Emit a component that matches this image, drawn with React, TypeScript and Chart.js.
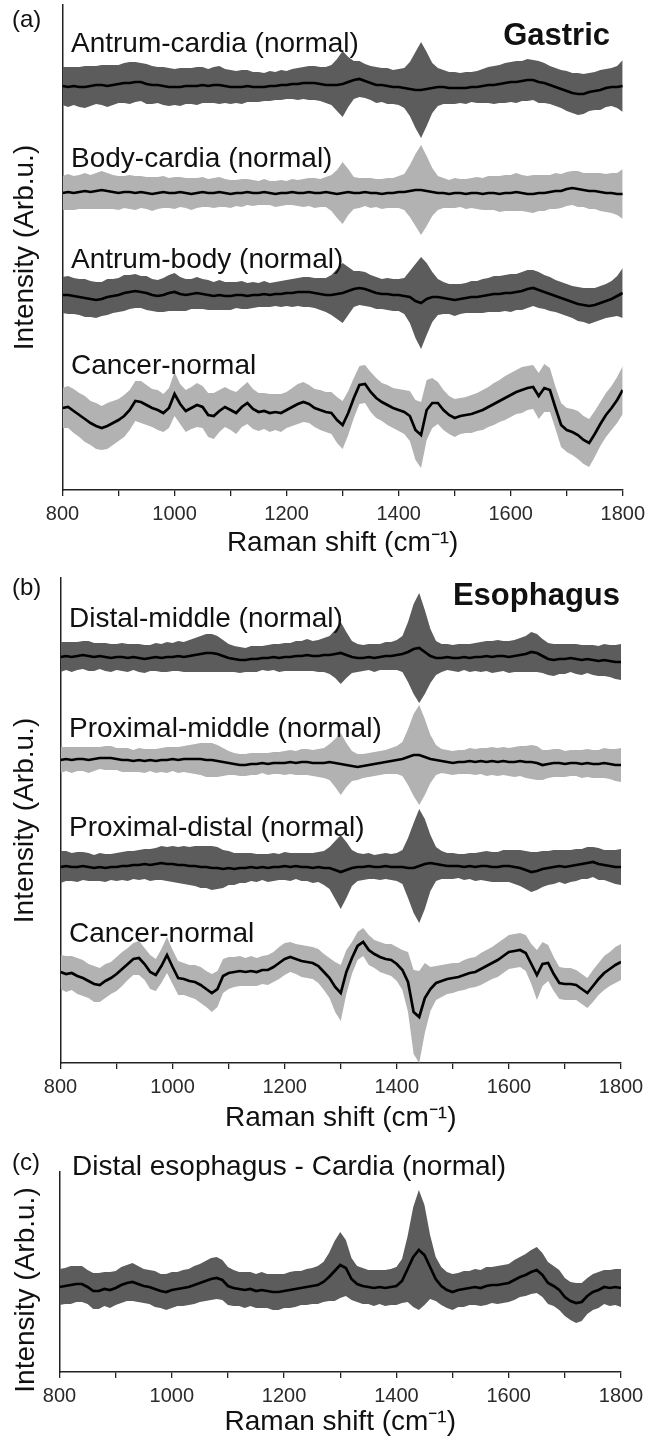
import React, { useEffect, useRef } from "react";
import { Chart, registerables } from "chart.js";

Chart.register(...registerables);

const FONT = "'Liberation Sans', Arial, Helvetica, sans-serif";
const DARK = "#5c5c5c";
const LIGHT = "#b2b2b2";

// Raman shift grid (cm^-1)
const WAVENUMBER = [
  800, 810, 820, 830, 840, 850, 860, 870, 880, 890,
  900, 910, 920, 930, 940, 950, 960, 970, 980, 990,
  1000, 1010, 1020, 1030, 1040, 1050, 1060, 1070, 1080, 1090,
  1100, 1110, 1120, 1130, 1140, 1150, 1160, 1170, 1180, 1190,
  1200, 1210, 1220, 1230, 1240, 1250, 1260, 1270, 1280, 1290,
  1300, 1310, 1320, 1330, 1340, 1350, 1360, 1370, 1380, 1390,
  1400, 1410, 1420, 1430, 1440, 1450, 1460, 1470, 1480, 1490,
  1500, 1510, 1520, 1530, 1540, 1550, 1560, 1570, 1580, 1590,
  1600, 1610, 1620, 1630, 1640, 1650, 1660, 1670, 1680, 1690,
  1700, 1710, 1720, 1730, 1740, 1750, 1760, 1770, 1780, 1790,
  1800,
];
const X_TICKS = [800, 1000, 1200, 1400, 1600, 1800];
const Y_TITLE = "Intensity (Arb.u.)";
const X_TITLE = "Raman shift (cm\u207B\u00B9)";

// ---------- (a) Gastric ----------
const GASTRIC_NAMES = ["Antrum-cardia (normal)", "Body-cardia (normal)", "Antrum-body (normal)", "Cancer-normal"];
const GASTRIC_OFFSETS = [403, 297, 195, 80];

const ANTRUM_CARDIA_MEAN = [
  1, 0, 1, 0, 0, 1, 2, 2, 1, 2,
  3, 4, 4, 5, 5, 3, 2, 2, 1, 0,
  0, 0, 1, 1, 1, 2, 1, 2, 2, 1,
  0, 0, 0, 1, 0, 0, 0, 1, 1, 2,
  2, 3, 3, 4, 4, 4, 3, 2, 2, 2,
  3, 5, 7, 8, 6, 4, 2, 2, 1, 0,
  0, -1, -2, -3, -3, -2, -1, 0, 0, -1,
  -1, -1, -1, 0, 0, 1, 2, 2, 3, 4,
  5, 5, 6, 7, 7, 5, 4, 2, 0, -2,
  -4, -6, -7, -7, -5, -4, -3, -1, 0, 0,
  1,
];
const ANTRUM_CARDIA_SD = [
  19, 20, 19, 20, 21, 20, 19, 20, 21, 20,
  19, 20, 21, 20, 19, 20, 19, 18, 19, 19,
  18, 19, 18, 18, 19, 18, 17, 18, 19, 17,
  17, 16, 17, 16, 15, 15, 14, 15, 14, 15,
  14, 15, 16, 16, 17, 17, 17, 18, 20, 26,
  33, 25, 19, 18, 17, 17, 18, 17, 18, 17,
  18, 20, 27, 38, 48, 37, 25, 19, 17, 16,
  16, 15, 16, 15, 16, 17, 18, 19, 19, 20,
  20, 21, 20, 21, 20, 21, 20, 19, 19, 19,
  20, 20, 21, 20, 19, 19, 20, 19, 19, 21,
  26,
];
const BODY_CARDIA_MEAN = [
  0, 1, 0, 1, 2, 1, 2, 3, 2, 1,
  0, 1, 1, 0, 1, 0, -1, 0, 1, 0,
  0, 1, 0, -1, 0, 1, 0, 0, 1, 0,
  -1, 0, 0, 1, 0, 0, 1, 0, -1, 0,
  0, 1, 0, 0, 1, 0, 0, 1, 0, -1,
  0, 1, 0, 0, 1, 0, 0, -1, 0, 0,
  1, 1, 2, 3, 3, 2, 1, 0, 0, -1,
  0, 0, -1, 0, 0, -1, 0, 0, -1, 0,
  0, 1, 0, -1, -1, 0, 0, 1, 2, 2,
  4, 5, 4, 3, 2, 2, 1, 0, 0, -1,
  -1,
];
const BODY_CARDIA_SD = [
  17, 18, 17, 17, 18, 17, 18, 19, 18, 17,
  17, 16, 17, 17, 16, 16, 17, 16, 16, 15,
  16, 15, 15, 16, 15, 15, 14, 15, 15, 14,
  14, 13, 14, 13, 13, 12, 13, 12, 13, 13,
  12, 13, 13, 14, 14, 15, 14, 15, 18, 24,
  31, 23, 16, 15, 14, 15, 14, 15, 15, 15,
  16, 18, 26, 36, 45, 35, 24, 17, 15, 14,
  15, 14, 15, 15, 16, 16, 17, 17, 18, 18,
  18, 19, 18, 18, 19, 18, 18, 17, 18, 17,
  17, 17, 18, 17, 18, 18, 19, 19, 20, 21,
  25,
];
const ANTRUM_BODY_MEAN = [
  0, 0, -1, -2, -3, -4, -5, -4, -2, -1,
  0, 2, 3, 4, 3, 2, 0, -1, 0, 2,
  3, 1, 0, 1, 2, 1, 0, -1, 0, -1,
  -1, 0, 0, -1, 0, 0, 1, 0, 1, 1,
  2, 2, 3, 3, 3, 2, 1, 0, 0, 1,
  2, 4, 6, 7, 6, 4, 2, 1, 1, 0,
  0, -1, -2, -6, -8, -4, -2, -2, -3, -4,
  -5, -4, -3, -2, -2, -1, 0, 1, 1, 2,
  2, 3, 4, 6, 7, 5, 3, 1, -1, -3,
  -5, -7, -9, -10, -11, -10, -8, -6, -4, -1,
  2,
];
const ANTRUM_BODY_SD = [
  18, 19, 18, 18, 19, 18, 18, 17, 18, 17,
  17, 18, 17, 17, 16, 17, 16, 16, 17, 18,
  19, 17, 16, 15, 16, 15, 15, 14, 15, 14,
  14, 13, 14, 13, 13, 12, 13, 12, 12, 13,
  13, 14, 14, 15, 15, 15, 16, 17, 20, 25,
  30, 24, 18, 17, 17, 16, 16, 15, 16, 16,
  16, 18, 26, 37, 46, 36, 25, 18, 16, 15,
  16, 15, 15, 16, 16, 17, 17, 18, 18, 18,
  19, 18, 19, 19, 18, 18, 17, 17, 16, 16,
  16, 16, 17, 17, 18, 17, 17, 17, 18, 20,
  25,
];
const GASTRIC_CANCER_MEAN = [
  2, 3, -1, -5, -9, -13, -16, -18, -16, -13,
  -10, -6, 0, 9, 8, 5, 2, 0, -3, 2,
  16, 6, -1, 2, 5, 3, -5, -6, -1, 3,
  0, -3, 3, 7, 1, -2, -1, -3, -2, -3,
  0, 3, 6, 8, 6, 2, 0, -2, -3, -10,
  -15, -3, 12, 25, 26, 18, 12, 8, 5, 2,
  0, -2, -6, -20, -25, 0, 7, 7, 0, -5,
  -8, -6, -5, -4, -2, 0, 3, 6, 9, 12,
  15, 18, 20, 22, 23, 14, 22, 20, 2, -15,
  -20, -22, -25, -30, -33, -24, -14, -5, 2, 10,
  20,
];
const GASTRIC_CANCER_SD = [
  20, 21, 22, 22, 23, 22, 23, 22, 23, 22,
  21, 21, 20, 20, 21, 20, 19, 20, 19, 20,
  22, 20, 21, 21, 22, 21, 22, 23, 21, 20,
  20, 21, 20, 21, 20, 19, 18, 19, 18, 19,
  18, 19, 20, 20, 19, 19, 20, 20, 21, 23,
  24, 22, 20, 19, 19, 20, 20, 19, 20, 20,
  21, 22, 25, 30, 33, 30, 25, 21, 20, 19,
  19, 18, 18, 19, 19, 20, 20, 21, 21, 22,
  22, 22, 23, 22, 22, 23, 24, 22, 21, 22,
  22, 23, 24, 24, 24, 23, 22, 22, 22, 23,
  24,
];

// ---------- (b) Esophagus ----------
const ESOPHAGUS_NAMES = ["Distal-middle (normal)", "Proximal-middle (normal)", "Proximal-distal (normal)", "Cancer-normal"];
const ESOPHAGUS_OFFSETS = [406, 303, 196, 91];

const DISTAL_MIDDLE_MEAN = [
  0, 1, 0, 1, 2, 1, 0, 1, 0, -1,
  0, 0, -1, 0, -1, -2, -1, 0, -1, 0,
  0, 1, 0, 1, 2, 3, 4, 4, 3, 1,
  -1, -2, -3, -3, -2, -2, -1, -1, 0, -1,
  0, 0, 1, 1, 2, 1, 1, 2, 2, 3,
  4, 2, 0, -1, -1, 0, -1, 0, 1, 1,
  2, 3, 5, 8, 9, 5, 1, -1, -1, 0,
  -1, -1, 0, -1, 0, 0, 1, 0, 1, 1,
  0, 1, 2, 3, 5, 4, 1, -2, -3, -2,
  -2, -1, -2, -3, -2, -3, -4, -3, -4, -5,
  -5,
];
const DISTAL_MIDDLE_SD = [
  15, 14, 15, 14, 14, 15, 14, 13, 14, 14,
  13, 14, 14, 13, 14, 14, 13, 14, 14, 15,
  14, 15, 15, 16, 17, 18, 19, 19, 18, 16,
  14, 13, 13, 12, 13, 13, 12, 13, 13, 14,
  14, 14, 15, 15, 16, 15, 16, 17, 19, 24,
  31, 23, 16, 14, 13, 13, 14, 13, 14, 14,
  15, 18, 30, 45, 55, 42, 27, 17, 14, 13,
  13, 14, 13, 14, 14, 15, 15, 16, 16, 15,
  16, 16, 17, 18, 20, 19, 17, 16, 16, 15,
  15, 14, 15, 15, 14, 15, 15, 16, 16, 17,
  18,
];
const PROXIMAL_MIDDLE_MEAN = [
  0, 1, 0, 1, 1, 0, 1, 2, 2, 2,
  1, 0, 0, -1, 0, -1, 0, -1, 0, 0,
  1, 0, 1, 1, 1, 1, 0, 0, -1, -2,
  -3, -4, -5, -5, -4, -4, -3, -4, -3, -3,
  -3, -2, -3, -2, -2, -3, -3, -3, -2, -3,
  -4, -5, -6, -7, -6, -5, -4, -3, -2, -1,
  0, 1, 3, 5, 5, 3, 1, 0, -1, -2,
  -3, -2, -2, -1, -2, -1, -2, -1, -2, -1,
  -2, -2, -1, -2, -2, -3, -5, -4, -3, -3,
  -4, -3, -3, -4, -3, -4, -4, -3, -4, -5,
  -5,
];
const PROXIMAL_MIDDLE_SD = [
  13, 12, 13, 12, 12, 13, 12, 11, 12, 12,
  11, 12, 12, 11, 12, 12, 11, 12, 12, 13,
  12, 13, 13, 14, 15, 16, 17, 17, 16, 14,
  12, 11, 11, 11, 11, 11, 10, 11, 11, 11,
  12, 12, 12, 13, 13, 13, 14, 15, 18, 24,
  31, 22, 15, 13, 12, 12, 12, 12, 12, 13,
  14, 17, 28, 41, 50, 38, 24, 15, 12, 12,
  12, 12, 12, 13, 13, 13, 14, 14, 14, 14,
  14, 15, 15, 16, 17, 17, 15, 14, 14, 14,
  13, 13, 13, 14, 14, 14, 14, 15, 15, 16,
  17,
];
const PROXIMAL_DISTAL_MEAN = [
  0, 1, 0, 0, 1, 0, -1, 0, -1, 0,
  0, 1, 1, 2, 2, 3, 2, 3, 4, 3,
  3, 2, 2, 1, 1, 0, 0, -1, -1, -2,
  -1, -2, -1, -1, 0, -1, 0, -1, 0, 0,
  1, 0, 1, 0, 0, -1, 0, -1, -1, -3,
  -5, -3, -1, 0, 0, 1, 0, 0, 1, 0,
  0, 0, -1, -1, 1, 3, 4, 3, 2, 1,
  1, 1, 0, 1, 0, 1, 1, 0, 0, 1,
  1, 0, -1, -3, -5, -4, -2, -1, 0, 1,
  0, 1, 2, 3, 4, 5, 3, 2, 1, 0,
  0,
];
const PROXIMAL_DISTAL_SD = [
  16, 15, 14, 15, 14, 14, 13, 14, 14, 13,
  14, 14, 15, 14, 15, 15, 16, 16, 17, 17,
  18, 18, 19, 19, 20, 21, 21, 22, 21, 19,
  17, 16, 15, 15, 14, 14, 13, 14, 14, 13,
  14, 14, 13, 14, 14, 15, 15, 17, 21, 29,
  37, 28, 18, 14, 13, 13, 12, 13, 13, 13,
  14, 17, 30, 45, 57, 45, 28, 17, 14, 13,
  13, 12, 13, 13, 14, 14, 15, 15, 15, 16,
  16, 17, 18, 19, 20, 19, 18, 17, 17, 16,
  17, 16, 16, 15, 16, 15, 16, 15, 16, 17,
  18,
];
const ESOPHAGUS_CANCER_MEAN = [
  0, -2, -1, -4, -6, -9, -12, -13, -9, -6,
  -2, 3, 8, 13, 14, 8, 0, -3, 6, 17,
  5, -6, -7, -9, -10, -13, -17, -21, -17, -4,
  -1, 0, 1, 0, 1, 0, 2, 2, 5, 9,
  13, 15, 13, 11, 10, 9, 6, 0, -6, -15,
  -21, 0, 14, 26, 30, 22, 18, 15, 13, 12,
  8, 2, -10, -40, -45, -26, -17, -11, -9, -7,
  -6, -5, -3, -1, 0, 3, 6, 9, 12, 16,
  20, 21, 22, 19, 8, -3, 8, 9, -2, -11,
  -12, -12, -13, -17, -21, -14, -7, -1, 3, 7,
  10,
];
const ESOPHAGUS_CANCER_SD = [
  17, 18, 17, 18, 18, 17, 18, 17, 17, 16,
  17, 17, 16, 16, 17, 16, 17, 16, 17, 18,
  17, 17, 16, 16, 17, 18, 18, 19, 18, 17,
  16, 15, 15, 14, 15, 14, 14, 15, 15, 16,
  16, 15, 15, 16, 16, 16, 17, 18, 20, 25,
  28, 22, 16, 14, 14, 15, 14, 15, 15, 16,
  17, 20, 30, 42, 46, 35, 22, 17, 16, 15,
  15, 14, 15, 15, 15, 16, 16, 16, 17, 17,
  17, 17, 17, 18, 20, 25, 22, 18, 17, 16,
  16, 16, 15, 15, 15, 16, 16, 17, 17, 18,
  18,
];

// ---------- (c) Distal esophagus - Cardia ----------
const JUNCTION_NAME = "Distal esophagus - Cardia (normal)";
const JUNCTION_OFFSET = 85;
const JUNCTION_MEAN = [
  0, 1, 2, 3, 3, 0, -4, -4, -2, -3,
  -1, 2, 4, 5, 3, 1, 0, -2, -4, -5,
  -3, -2, -1, 0, 2, 4, 6, 8, 9, 7,
  1, -1, -2, -3, -2, -4, -3, -4, -5, -5,
  -4, -3, -2, -1, 0, 1, 2, 5, 10, 16,
  22, 19, 8, 3, 1, 0, -1, 0, -1, 0,
  1, 6, 18, 30, 37, 32, 20, 8, 1, -3,
  -5, -3, -2, -1, 0, -1, 1, 2, 2, 3,
  4, 7, 10, 12, 15, 17, 12, 4, 1, -3,
  -10, -14, -16, -15, -9, -5, -3, 0, -1, 0,
  -1,
];
const JUNCTION_SD = [
  18, 18, 19, 18, 18, 17, 18, 18, 17, 18,
  17, 18, 18, 19, 18, 17, 17, 18, 17, 18,
  18, 17, 18, 18, 19, 19, 20, 21, 21, 20,
  19, 18, 17, 18, 17, 17, 18, 17, 18, 18,
  17, 18, 18, 17, 18, 18, 19, 20, 24, 30,
  33, 28, 21, 18, 18, 17, 18, 17, 18, 18,
  19, 22, 33, 50, 60, 50, 32, 22, 19, 18,
  18, 17, 18, 17, 18, 18, 19, 18, 19, 19,
  19, 20, 20, 21, 22, 23, 22, 21, 20, 20,
  19, 19, 20, 19, 18, 18, 18, 17, 18, 18,
  19,
];

type Trace = { mean: number[]; sd: number[]; offset: number; color: string };

function buildDatasets(traces: Trace[]) {
  const pts = (vals: number[]) => WAVENUMBER.map((x, i) => ({ x, y: vals[i] }));
  const lines = traces.map((t) => ({
    data: pts(t.mean.map((m) => t.offset + m)),
    borderColor: "#000",
    borderWidth: 2.7,
    pointRadius: 0,
    fill: false,
    order: 0,
  }));
  const bands: any[] = [];
  traces.forEach((t) => {
    bands.push({
      data: pts(t.mean.map((m, i) => t.offset + m + t.sd[i])),
      backgroundColor: t.color,
      borderWidth: 0,
      pointRadius: 0,
      fill: "+1",
      order: 1,
    });
    bands.push({
      data: pts(t.mean.map((m, i) => t.offset + m - t.sd[i])),
      borderWidth: 0,
      pointRadius: 0,
      fill: false,
      order: 1,
    });
  });
  return [...lines, ...bands];
}

const textPlugin = {
  id: "panelText",
  afterDraw(chart: any, _args: any, opts: any) {
    const ctx = chart.ctx;
    for (const it of opts.items || []) {
      ctx.save();
      ctx.font = it.font;
      ctx.fillStyle = it.color || "#111";
      ctx.textAlign = it.align || "left";
      ctx.textBaseline = it.baseline || "alphabetic";
      ctx.translate(it.x, it.y);
      if (it.rotate) ctx.rotate(it.rotate);
      ctx.fillText(it.text, 0, 0);
      ctx.restore();
    }
  },
};

type PanelLayout = {
  padTop: number;
  padRight: number;
  xHeight: number;
  yWidth: number;
  yMax: number;
  xTitlePad: number;
  yTitleOnScale: boolean;
};

function makeConfig(traces: Trace[], layout: PanelLayout, items: any[]) {
  return {
    type: "line",
    data: { datasets: buildDatasets(traces) },
    plugins: [textPlugin],
    options: {
      responsive: false,
      animation: false,
      devicePixelRatio: 1,
      layout: { padding: { top: layout.padTop, right: layout.padRight, bottom: 0, left: 0 } },
      elements: { line: { tension: 0 } },
      plugins: {
        legend: { display: false },
        tooltip: { enabled: false },
        panelText: { items },
      },
      scales: {
        x: {
          type: "linear",
          position: "bottom",
          min: 800,
          max: 1800,
          afterFit: (s: any) => {
            s.height = layout.xHeight;
          },
          afterBuildTicks: (s: any) => {
            const ticks: any[] = [];
            for (let v = 800; v <= 1800; v += 100) ticks.push({ value: v });
            s.ticks = ticks;
          },
          ticks: {
            autoSkip: false,
            maxRotation: 0,
            padding: 6,
            color: "#2a2a2a",
            font: { family: FONT, size: 20 },
            callback: (v: number) => (X_TICKS.includes(v) ? String(v) : ""),
          },
          grid: {
            display: true,
            drawOnChartArea: false,
            drawTicks: true,
            tickLength: 6,
            color: "#222",
            lineWidth: 1.3,
          },
          border: { display: true, color: "#222", width: 1.5 },
          title: {
            display: true,
            text: X_TITLE,
            color: "#111",
            font: { family: FONT, size: 28 },
            padding: { top: 0, bottom: layout.xTitlePad },
          },
        },
        y: {
          type: "linear",
          position: "left",
          min: 0,
          max: layout.yMax,
          afterFit: (s: any) => {
            s.width = layout.yWidth;
          },
          ticks: { display: false },
          grid: { display: false, drawTicks: false },
          border: { display: true, color: "#222", width: 1.5 },
          title: {
            display: layout.yTitleOnScale,
            text: Y_TITLE,
            color: "#111",
            font: { family: FONT, size: 28 },
            padding: { top: 8, bottom: 0 },
          },
        },
      },
    },
  };
}

function Panel({ top, height, config }: { top: number; height: number; config: () => any }) {
  const ref = useRef<HTMLCanvasElement | null>(null);
  useEffect(() => {
    if (!ref.current) return;
    const chart = new Chart(ref.current, config());
    return () => chart.destroy();
  }, []);
  return (
    <div style={{ position: "absolute", left: 0, top, width: 651, height }}>
      <canvas ref={ref} width={651} height={height} style={{ display: "block", width: 651, height }} />
    </div>
  );
}

const LABEL_FONT = `28px ${FONT}`;
const LETTER_FONT = `24px ${FONT}`;
const HEAD_FONT = `bold 31px ${FONT}`;

function gastricConfig() {
  const mean = [ANTRUM_CARDIA_MEAN, BODY_CARDIA_MEAN, ANTRUM_BODY_MEAN, GASTRIC_CANCER_MEAN];
  const sd = [ANTRUM_CARDIA_SD, BODY_CARDIA_SD, ANTRUM_BODY_SD, GASTRIC_CANCER_SD];
  const colors = [DARK, LIGHT, DARK, LIGHT];
  const traces = GASTRIC_NAMES.map((_, i) => ({ mean: mean[i], sd: sd[i], offset: GASTRIC_OFFSETS[i], color: colors[i] }));
  const labelY = [52, 167, 268, 374];
  const items = [
    { text: "(a)", x: 12, y: 27, font: LETTER_FONT },
    { text: "Gastric", x: 610, y: 45, font: HEAD_FONT, align: "right" },
    ...GASTRIC_NAMES.map((n, i) => ({ text: n, x: 71, y: labelY[i], font: LABEL_FONT })),
  ];
  return makeConfig(
    traces,
    { padTop: 5, padRight: 25.5, xHeight: 70, yWidth: 62.5, yMax: 485, xTitlePad: 0, yTitleOnScale: true },
    items
  );
}

function esophagusConfig() {
  const mean = [DISTAL_MIDDLE_MEAN, PROXIMAL_MIDDLE_MEAN, PROXIMAL_DISTAL_MEAN, ESOPHAGUS_CANCER_MEAN];
  const sd = [DISTAL_MIDDLE_SD, PROXIMAL_MIDDLE_SD, PROXIMAL_DISTAL_SD, ESOPHAGUS_CANCER_SD];
  const colors = [DARK, LIGHT, DARK, LIGHT];
  const traces = ESOPHAGUS_NAMES.map((_, i) => ({ mean: mean[i], sd: sd[i], offset: ESOPHAGUS_OFFSETS[i], color: colors[i] }));
  const labelY = [67, 177, 276, 382];
  const items = [
    { text: "(b)", x: 12, y: 35, font: LETTER_FONT },
    { text: "Esophagus", x: 620, y: 45, font: HEAD_FONT, align: "right" },
    ...ESOPHAGUS_NAMES.map((n, i) => ({ text: n, x: 69, y: labelY[i], font: LABEL_FONT })),
  ];
  return makeConfig(
    traces,
    { padTop: 18, padRight: 30, xHeight: 77, yWidth: 60.5, yMax: 485, xTitlePad: 5, yTitleOnScale: true },
    items
  );
}

function junctionConfig() {
  const traces = [{ mean: JUNCTION_MEAN, sd: JUNCTION_SD, offset: JUNCTION_OFFSET, color: DARK }];
  const items = [
    { text: "(c)", x: 12, y: 30, font: LETTER_FONT },
    { text: JUNCTION_NAME, x: 72, y: 35, font: LABEL_FONT },
    { text: Y_TITLE, x: 26, y: 150, font: LABEL_FONT, align: "center", baseline: "middle", rotate: -Math.PI / 2 },
  ];
  return makeConfig(
    traces,
    { padTop: 32, padRight: 30, xHeight: 67, yWidth: 59.5, yMax: 200, xTitlePad: 0, yTitleOnScale: false },
    items
  );
}

export default function App() {
  return (
    <div style={{ position: "absolute", left: 0, top: 0, width: 651, height: 1439, background: "#fff" }}>
      <Panel top={0} height={560} config={gastricConfig} />
      <Panel top={560} height={580} config={esophagusConfig} />
      <Panel top={1140} height={299} config={junctionConfig} />
    </div>
  );
}
